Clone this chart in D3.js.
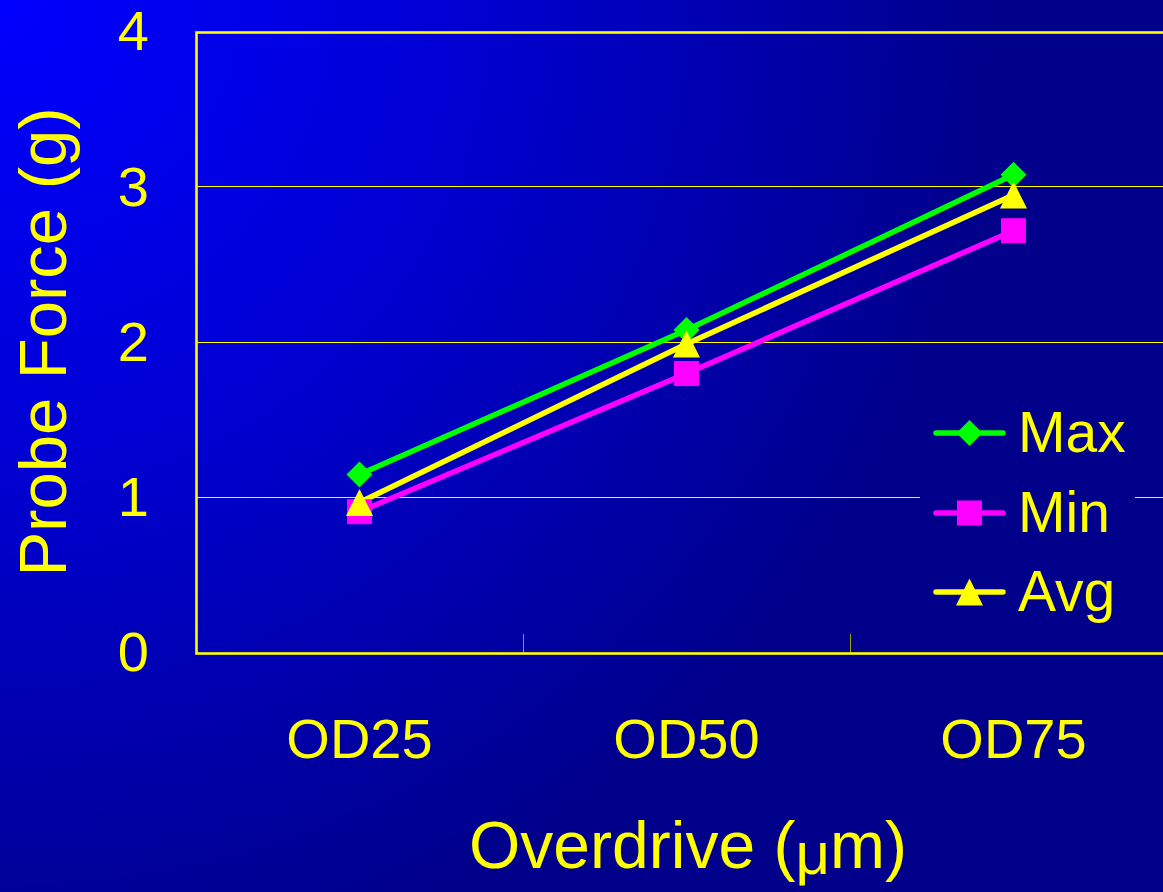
<!DOCTYPE html>
<html>
<head>
<meta charset="utf-8">
<script src="https://cdn.jsdelivr.net/npm/d3@7"></script>
<style>
html,body{margin:0;padding:0;background:#000088;}
svg{display:block;}
text{font-family:"Liberation Sans",Arial,sans-serif;fill:#ffff00;}
</style>
</head>
<body>
<svg id="chart" width="1163" height="892"></svg>
<script>
const categories = ["OD25", "OD50", "OD75"];
const maxValues = [1.15, 2.08, 3.08];
const minValues = [0.91, 1.80, 2.72];
const avgValues = [0.97, 1.99, 2.95];
const yTicks = [0, 1, 2, 3, 4];
const seriesNames = ["Max", "Min", "Avg"];
const seriesColors = ["#00ff00", "#ff00ff", "#ffff00"];
const seriesShapes = ["diamond", "square", "triangle"];
const xTitleParts = ["Overdrive (", "\u03bc", "m)"];
const yTitle = "Probe Force (g)";

const series = [maxValues, minValues, avgValues].map((vals, i) => ({
  name: seriesNames[i], color: seriesColors[i], shape: seriesShapes[i],
  values: vals.map((v, j) => ({cat: categories[j], v}))
}));

const W = 1163, H = 892;
const plot = {left: 196, top: 32, right: 1177, bottom: 653};
const svg = d3.select("#chart");

const defs = svg.append("defs");
const grad = defs.append("radialGradient").attr("id", "bg")
  .attr("gradientUnits", "userSpaceOnUse")
  .attr("cx", 0).attr("cy", 0).attr("r", 1000).attr("fx", 0).attr("fy", 0);
grad.append("stop").attr("offset", 0).attr("stop-color", "#0000ff");
grad.append("stop").attr("offset", 0.45).attr("stop-color", "#0000d4");
grad.append("stop").attr("offset", 1).attr("stop-color", "#00008a");

svg.append("rect").attr("width", W).attr("height", H).attr("fill", "url(#bg)");

const x = d3.scaleBand().domain(categories).range([plot.left, plot.right]).padding(0);
const y = d3.scaleLinear().domain([0, 4]).range([plot.bottom, plot.top]);

// gridlines
svg.append("g").selectAll("line").data(yTicks.filter(t => t > 0 && t < 4)).join("line")
  .attr("x1", plot.left).attr("x2", plot.right)
  .attr("y1", d => Math.round(y(d)) - 0.5).attr("y2", d => Math.round(y(d)) - 0.5)
  .attr("stroke", "#ffff00").attr("stroke-width", 1);

// x category boundary ticks (inside)
svg.append("g").selectAll("line").data(categories.slice(1)).join("line")
  .attr("x1", d => Math.round(x(d)) + 0.5).attr("x2", d => Math.round(x(d)) + 0.5)
  .attr("y1", plot.bottom - 19).attr("y2", plot.bottom)
  .attr("stroke", "#a0a000").attr("stroke-width", 1);

// plot border
svg.append("rect").attr("x", plot.left + 0.5).attr("y", plot.top + 0.5)
  .attr("width", plot.right - plot.left).attr("height", plot.bottom - plot.top)
  .attr("fill", "none").attr("stroke", "#ffff00").attr("stroke-width", 2.6);

// y axis labels
const yAxis = svg.append("g").attr("transform", `translate(${plot.left},0)`)
  .call(d3.axisLeft(y).tickValues(yTicks).tickSize(0).tickPadding(47).tickFormat(d3.format("d")));
yAxis.select(".domain").remove();
yAxis.selectAll("text").attr("font-size", 56).attr("fill", "#ffff00")
  .attr("font-family", "Liberation Sans, Arial, sans-serif");

// x axis labels
const xAxis = svg.append("g").attr("transform", `translate(0,${plot.bottom})`)
  .call(d3.axisBottom(x).tickSize(0).tickPadding(65));
xAxis.select(".domain").remove();
xAxis.selectAll("text").attr("font-size", 56).attr("fill", "#ffff00")
  .attr("font-family", "Liberation Sans, Arial, sans-serif");

// titles
const xt = svg.append("text").attr("x", 688).attr("y", 868).attr("text-anchor", "middle")
  .attr("font-size", 66);
xt.append("tspan").text(xTitleParts[0]);
xt.append("tspan").attr("dy", 6).attr("font-size", 60).text(xTitleParts[1]);
xt.append("tspan").attr("dy", -6).text(xTitleParts[2]);
svg.append("text").attr("transform", "translate(66,342) rotate(-90)")
  .attr("text-anchor", "middle").attr("font-size", 67).text(yTitle);

// markers
function drawMarker(g, shape, cx, cy, color) {
  if (shape === "diamond") {
    const r = 13;
    g.append("path").attr("d", `M${cx},${cy - r}L${cx + r},${cy}L${cx},${cy + r}L${cx - r},${cy}Z`).attr("fill", color);
  } else if (shape === "square") {
    const s = 25;
    g.append("rect").attr("x", cx - s / 2).attr("y", cy - s / 2).attr("width", s).attr("height", s).attr("fill", color);
  } else {
    const w = 27, h = 27;
    g.append("path").attr("d", `M${cx},${cy - h / 2}L${cx + w / 2},${cy + h / 2}L${cx - w / 2},${cy + h / 2}Z`).attr("fill", color);
  }
}

const line = d3.line().x(d => x(d.cat) + x.bandwidth() / 2).y(d => y(d.v));
const plotG = svg.append("g");
series.forEach(s => {
  plotG.append("path").datum(s.values).attr("d", line)
    .attr("fill", "none").attr("stroke", s.color).attr("stroke-width", 5.5).attr("stroke-linejoin", "round");
});
[series[1], series[0], series[2]].forEach(s => {
  s.values.forEach(d => drawMarker(plotG, s.shape, x(d.cat) + x.bandwidth() / 2, y(d.v), s.color));
});

// legend
const legend = svg.append("g");
legend.append("rect").attr("x", 920).attr("y", 395).attr("width", 215).attr("height", 238).attr("fill", "url(#bg)");
const legY = [433, 513, 592];
series.forEach((s, i) => {
  const g = legend.append("g");
  g.append("line").attr("x1", 936).attr("x2", 1003).attr("y1", legY[i]).attr("y2", legY[i])
    .attr("stroke", s.color).attr("stroke-width", 5.5).attr("stroke-linecap", "round");
  drawMarker(g, s.shape, 969.5, legY[i], s.color);
  g.append("text").attr("x", 1018).attr("y", legY[i] + 19).attr("font-size", 57).text(s.name);
});
</script>
</body>
</html>
